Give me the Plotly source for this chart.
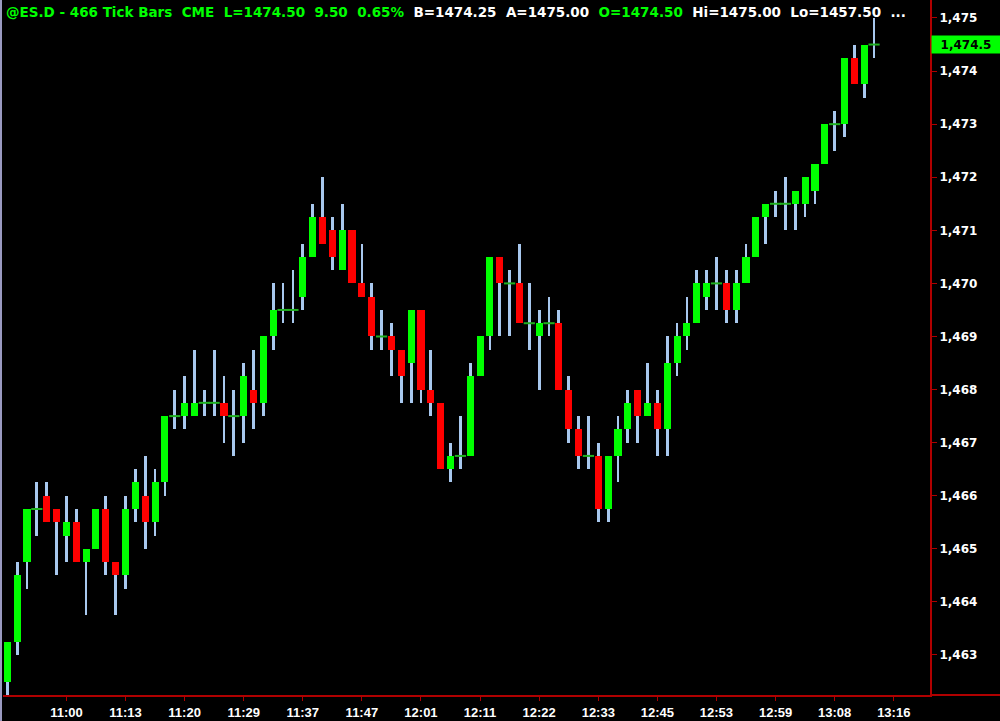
import plotly.graph_objects as go

# ---- data ----
opens = [1462.5, 1463.25, 1464.75, 1465.75, 1466.0, 1465.75, 1465.25, 1465.5, 1464.75, 1465.0,
         1465.75, 1464.75, 1464.5, 1465.75, 1466.0, 1465.5, 1466.25, 1467.5, 1467.5, 1467.5,
         1467.75, 1467.75, 1467.75, 1467.5, 1467.5, 1468.0, 1467.75, 1469.0, 1469.5, 1469.5,
         1469.75, 1470.5, 1471.25, 1471.0, 1470.25, 1471.0, 1470.0, 1469.75, 1469.0, 1469.0,
         1468.75, 1468.5, 1469.5, 1468.0, 1467.75, 1466.5, 1466.75, 1466.75, 1468.25, 1469.0,
         1470.5, 1470.0, 1470.0, 1469.25, 1469.0, 1469.25, 1469.25, 1468.0, 1467.25, 1466.75,
         1466.75, 1465.75, 1466.75, 1467.25, 1468.0, 1467.5, 1467.75, 1467.25, 1468.5, 1469.0,
         1469.25, 1469.75, 1470.0, 1470.0, 1469.5, 1470.0, 1470.5, 1471.25, 1471.5, 1471.5,
         1471.5, 1471.5, 1471.75, 1472.25, 1473.0, 1473.0, 1474.25, 1473.75, 1474.5]
highs = [1463.25, 1464.75, 1465.75, 1466.25, 1466.25, 1465.75, 1466.0, 1465.75, 1465.0, 1465.75,
         1466.0, 1464.75, 1466.0, 1466.5, 1466.75, 1466.5, 1467.5, 1468.0, 1468.25, 1468.75,
         1468.0, 1468.75, 1468.25, 1468.0, 1468.5, 1468.75, 1469.0, 1470.0, 1470.0, 1470.25,
         1470.75, 1471.5, 1472.0, 1471.25, 1471.5, 1471.0, 1470.75, 1470.0, 1469.5, 1469.25,
         1468.75, 1469.5, 1469.5, 1468.75, 1467.75, 1467.0, 1467.5, 1468.5, 1469.0, 1470.5,
         1470.5, 1470.25, 1470.75, 1470.0, 1469.5, 1469.75, 1469.5, 1468.25, 1467.5, 1467.5,
         1467.0, 1466.75, 1467.5, 1468.0, 1468.0, 1468.5, 1468.0, 1469.0, 1469.25, 1469.75,
         1470.25, 1470.25, 1470.5, 1470.25, 1470.25, 1470.75, 1471.25, 1471.5, 1471.75, 1472.0,
         1471.75, 1472.0, 1472.25, 1473.0, 1473.25, 1474.25, 1474.5, 1474.5, 1475.0]
lows = [1462.25, 1463.0, 1464.25, 1465.25, 1465.5, 1464.5, 1464.75, 1464.75, 1463.75, 1465.0,
        1464.5, 1463.75, 1464.25, 1465.5, 1465.0, 1465.25, 1466.0, 1467.25, 1467.25, 1467.5,
        1467.5, 1467.5, 1467.0, 1466.75, 1467.0, 1467.25, 1467.5, 1468.75, 1469.25, 1469.25,
        1469.5, 1470.5, 1470.75, 1470.25, 1470.25, 1470.0, 1469.75, 1468.75, 1468.75, 1468.25,
        1467.75, 1467.75, 1467.75, 1467.5, 1466.5, 1466.25, 1466.5, 1466.75, 1468.25, 1468.75,
        1469.0, 1469.0, 1469.25, 1468.75, 1468.0, 1469.0, 1468.0, 1467.0, 1466.5, 1466.5,
        1465.5, 1465.5, 1466.25, 1467.0, 1467.0, 1467.5, 1466.75, 1466.75, 1468.25, 1468.75,
        1469.25, 1469.5, 1469.5, 1469.25, 1469.25, 1470.0, 1470.5, 1470.75, 1471.25, 1471.0,
        1471.0, 1471.25, 1471.5, 1472.25, 1472.5, 1472.75, 1473.75, 1473.5, 1474.25]
closes = [1463.25, 1464.5, 1465.75, 1465.75, 1465.5, 1465.5, 1465.5, 1464.75, 1465.0, 1465.75,
          1464.75, 1464.5, 1465.75, 1466.25, 1465.5, 1466.25, 1467.5, 1467.5, 1467.75, 1467.75,
          1467.75, 1467.75, 1467.5, 1467.5, 1468.25, 1467.75, 1469.0, 1469.5, 1469.5, 1469.5,
          1470.5, 1471.25, 1470.75, 1470.5, 1471.0, 1470.0, 1469.75, 1469.0, 1469.0, 1468.75,
          1468.25, 1469.5, 1468.0, 1467.75, 1466.5, 1466.75, 1466.75, 1468.25, 1469.0, 1470.5,
          1470.0, 1470.0, 1469.25, 1469.25, 1469.25, 1469.25, 1468.0, 1467.25, 1466.75, 1466.75,
          1465.75, 1466.75, 1467.25, 1467.75, 1467.5, 1467.75, 1467.25, 1468.5, 1469.0, 1469.25,
          1470.0, 1470.0, 1470.0, 1469.5, 1470.0, 1470.5, 1471.25, 1471.5, 1471.5, 1471.5,
          1471.75, 1472.0, 1472.25, 1473.0, 1473.0, 1474.25, 1473.75, 1474.5, 1474.5]

tick_labels = ["11:00", "11:13", "11:20", "11:29", "11:37", "11:47", "12:01", "12:11",
               "12:22", "12:33", "12:45", "12:53", "12:59", "13:08", "13:16"]
tick_bars = [6, 12, 18, 24, 30, 36, 42, 48, 54, 60, 66, 72, 78, 84, 90]
price_ticks = [1463, 1464, 1465, 1466, 1467, 1468, 1469, 1470, 1471, 1472, 1473, 1474, 1475]
last_price = 1474.5

GREEN = "#00FF00"
RED = "#FF0000"
WICK = "#A8C8EE"
AXIS_RED = "#B00000"

idx = list(range(len(opens)))
body_base = [min(o, c) for o, c in zip(opens, closes)]
body_h = [abs(c - o) for o, c in zip(opens, closes)]
body_col = [GREEN if c >= o else RED for o, c in zip(opens, closes)]
doji_x = [i for i in idx if opens[i] == closes[i]]
doji_y = [closes[i] for i in doji_x]

fig = go.Figure()
# wicks
fig.add_trace(go.Bar(x=idx, y=[h - l for h, l in zip(highs, lows)], base=lows, width=0.28,
                     marker=dict(color=WICK, line=dict(width=0)), hoverinfo="skip",
                     showlegend=False))
# bodies
fig.add_trace(go.Bar(x=idx, y=body_h, base=body_base, width=0.72,
                     marker=dict(color=body_col, line=dict(width=0)), hoverinfo="skip",
                     showlegend=False))
# doji lines
fig.add_trace(go.Scatter(x=doji_x, y=doji_y, mode="markers",
                         marker=dict(symbol="line-ew", size=8,
                                     line=dict(color="#20B020", width=2)),
                         hoverinfo="skip", showlegend=False, cliponaxis=False))

PL, PR, PT, PB = 3, 70, 0, 26
pw = 1000 - PL - PR
ph = 721 - PT - PB

fig.update_layout(
    width=1000, height=721, autosize=False,
    margin=dict(l=PL, r=PR, t=PT, b=PB, pad=0, autoexpand=False),
    paper_bgcolor="black", plot_bgcolor="black",
    barmode="overlay", bargap=0,
    showlegend=False,
    xaxis=dict(range=[-0.437, 93.68], showgrid=False, zeroline=False, automargin=False,
               tickmode="array", tickvals=tick_bars, ticktext=tick_labels,
               ticks="outside", ticklen=4, tickcolor=AXIS_RED, tickwidth=1,
               showline=True, linecolor=AXIS_RED, linewidth=2,
               tickfont=dict(family="Liberation Sans", size=13, color="white", weight="bold")),
    yaxis=dict(range=[1462.246, 1475.339], side="right", showgrid=False, zeroline=False,
               automargin=False,
               tickmode="array", tickvals=price_ticks, tickformat=",.0f",
               ticks="outside", ticklen=5, tickcolor=AXIS_RED, tickwidth=1,
               showline=True, linecolor=AXIS_RED, linewidth=2,
               tickfont=dict(family="DejaVu Sans", size=12, color="white", weight="bold")),
)

# left grey border & bottom line extension
fig.add_shape(type="rect", xref="paper", yref="paper",
              x0=-3 / pw, x1=-1 / pw, y0=-PB / ph, y1=1, fillcolor="#9A9AC0", line=dict(width=0))
fig.add_shape(type="line", xref="paper", yref="paper",
              x0=1, x1=(1000 - PL) / pw, y0=0, y1=0, line=dict(color=AXIS_RED, width=2))

# last-price box
fig.add_annotation(x=1, xref="paper", y=last_price, yref="y", xanchor="left", yanchor="middle",
                   xshift=1, text="1,474.5", showarrow=False, bgcolor=GREEN,
                   width=66, height=15, borderpad=1, align="center",
                   font=dict(family="DejaVu Sans", size=12, color="black", weight="bold"))

# header text
sp = "\u00a0\u00a0"
g = '<span style="color:#00FF00">'
w = '<span style="color:#FFFFFF">'
header = (g + "@ES.D - 466 Tick Bars" + sp + "CME" + sp + "L=1474.50" + sp + "9.50" + sp + "0.65%" + sp + "</span>"
          + w + "B=1474.25" + sp + "A=1475.00" + sp + "</span>"
          + g + "O=1474.50" + sp + "</span>"
          + w + "Hi=1475.00" + sp + "Lo=1457.50" + sp + "..." + "</span>")
fig.add_annotation(x=0, xref="paper", y=1, yref="paper", xanchor="left", yanchor="top",
                   xshift=1, yshift=-2, text=header, showarrow=False, align="left",
                   font=dict(family="DejaVu Sans", size=13.5, color="white", weight="bold"))

fig.write_html("out.html", config={"displayModeBar": False},
               post_script="document.body.style.margin='0';document.body.style.overflow='hidden';")
